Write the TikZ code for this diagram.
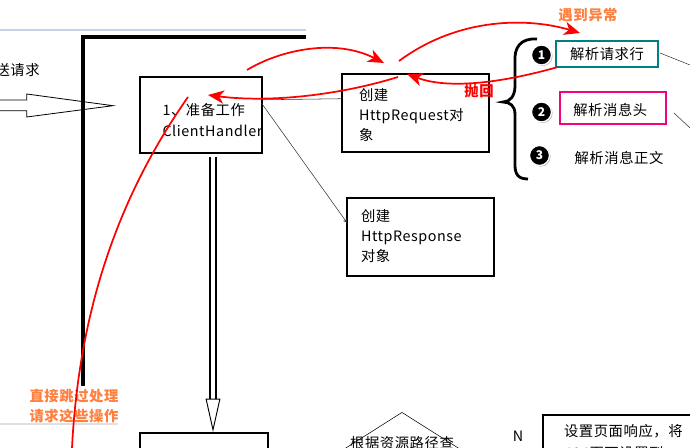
\documentclass[tikz,border=0pt]{standalone}
\usepackage{fontspec}
\setmainfont[LetterSpace=4]{Noto Sans CJK SC}
\usetikzlibrary{arrows.meta,shapes.geometric,shadows}
\definecolor{tealbox}{HTML}{008080}
\definecolor{pinkbox}{HTML}{F0047F}
\definecolor{notecolor}{HTML}{FF7F3F}
\definecolor{rulecolor}{HTML}{C5D2E3}
\tikzset{
  x=0.75pt, y=-0.75pt,
  plain/.style={font=\fontsize{10.75pt}{15pt}\selectfont, inner sep=0pt, align=left},
  stepbox/.style={plain, draw, line width=1.5pt, outer sep=0pt},
  numdot/.style={circle, fill=black, draw=white, line width=1pt, minimum size=15pt, inner sep=0pt,
                 text=white, font=\fontsize{9pt}{9pt}\selectfont\bfseries,
                 drop shadow={shadow xshift=0.8pt, shadow yshift=-0.8pt, opacity=0.6}},
  note/.style={font=\fontsize{10.75pt}{14.5pt}\selectfont\bfseries, text=notecolor, align=center, inner sep=0pt},
  jump/.style={->, red, line width=1.3pt, >={Stealth[length=12pt, width=10pt, inset=3.5pt]}},
  link/.style={->, line width=0.4pt, black!80, >={Stealth[length=3pt, width=3pt]}},
  thinline/.style={line width=0.4pt, black!80},
  hollow/.style={double, double distance=#1},
}

\begin{document}
\begin{tikzpicture}
  \useasboundingbox (0,0) rectangle (690,448);
  \clip (0,0) rectangle (690,448);

  % page rules
  \coordinate (ruleA) at (0,30);
  \coordinate (ruleB) at (306,30);
  \coordinate (ruleC) at (0,424);
  \coordinate (ruleD) at (118,424);
  \draw[line width=1.4pt, rulecolor] (ruleA) -- (ruleB);
  \draw[line width=0.8pt, black!12] (ruleC) -- (ruleD);

  % boxes
  \node[stepbox, text width=57pt, inner xsep=17.25pt, minimum height=57pt] (handler) at (200.5,115) {\rule{0pt}{16pt}1、准备工作\\[0.8pt]ClientHandler};
  \node[stepbox, text width=84.75pt, inner xsep=12.75pt, minimum height=58.5pt] (request) at (415.5,113) {\rule{0pt}{12pt}创建\\HttpRequest对\\象};
  \node[stepbox, text width=89.25pt, inner xsep=10.5pt, minimum height=58.5pt] (response) at (420.5,237) {创建\\HttpResponse\\对象\rule[-3pt]{0pt}{3pt}};
  \node[stepbox, draw=tealbox, minimum width=76.5pt, minimum height=19.5pt, align=center] (line) at (607,54) {解析请求行};
  \node[stepbox, draw=pinkbox, minimum width=79.5pt, minimum height=24pt, align=center] (head) at (613,108) {\hspace*{-4pt}\rule{0pt}{12pt}解析消息头};
  \node[plain] (body) at (619,158) {解析消息正文};
  \node[stepbox, line width=1.1pt, minimum width=96pt, minimum height=60pt] (nextbox) at (204,473) {};
  \node[draw, line width=0.4pt, diamond, aspect=1.6, minimum width=120pt, minimum height=76pt] (check) at (402,463) {};
  \node[plain] (checktext) at (402,443) {根据资源路径查};
  \node[plain] (no) at (518,436) {N};
  \node[stepbox, text width=130pt, inner xsep=15.75pt, minimum height=60pt, anchor=north west, text depth=40pt, text height=9pt, inner ysep=7pt] (page) at (543,415) {设置页面响应，将\\[1.5pt]404页面设置到};

  % numbers
  \node[numdot] (one) at (541.5,55) {1};
  \node[numdot] (two) at (541.5,112) {2};
  \node[numdot] (three) at (539.5,155.5) {3};

  % texts
  \node[plain, anchor=east] (send) at (40,70) {送请求};
  \node[note] (raise) at (588,15) {遇到异常};
  \node[note, text=red] (back) at (479,91) {抛回};
  \node[note] (skip) at (74,406) {直接跳过处理\\请求这些操作};

  % arrows into the handler
  \coordinate (sendTip) at (113,105.7);
  \draw[line width=0.6pt, fill=white] (0,100) -- (26.7,100) -- (26.7,94) -- (sendTip)
    -- (26.7,117) -- (26.7,110.7) -- (0,110.7);
  \coordinate (downA) at (213,157);
  \coordinate (downB) at (213,432);
  \draw[hollow=3pt, line width=1.6pt, -{Triangle[open, length=25pt, width=11pt, line width=0.7pt, fill=white]}] (downA) -- (downB);

  % thick wall
  \coordinate (wallA) at (306,37);
  \coordinate (wallB) at (83,37);
  \coordinate (wallC) at (83,386);
  \draw[line width=3pt] (wallA) -- (wallB) -- (wallC);

  % thin links
  \coordinate (lineout) at (690,65);
  \coordinate (headout) at (690,128);
  \draw[thinline] (handler.14) -- (request.169);
  \draw[link] (handler.11) -- (response.169);
  \draw[thinline] (660,53) -- (lineout);
  \draw[thinline] (674,113) -- (headout);

  % brace
  \coordinate (braceA) at (537,39);
  \coordinate (braceB) at (528,179);
  \coordinate (braceTip) at (503,102);
  \draw[line width=2.1pt] (braceA) .. controls (520,38) and (514,48) .. (515,62)
    -- (515,86) .. controls (515,96) and (510,102) .. (braceTip)
    .. controls (510,102) and (515,106) .. (515,114)
    -- (515,165) .. controls (515,174) and (518,179) .. (braceB);

  % red jumps
  \coordinate (jumpA) at (247,70);
  \coordinate (jumpAend) at (384,63);
  \coordinate (jumpB) at (399,61);
  \coordinate (jumpBend) at (580,33);
  \coordinate (jumpC) at (558,67);
  \coordinate (jumpCend) at (407,74);
  \coordinate (jumpD) at (398,77);
  \coordinate (jumpDend) at (208,95);
  \coordinate (jumpE) at (188,97);
  \coordinate (jumpEend) at (72,448);
  \draw[jump] (jumpA) .. controls (280,50) and (335,38) .. (jumpAend);
  \draw[jump] (jumpB) .. controls (460,16) and (530,18) .. (jumpBend);
  \draw[jump] (jumpC) .. controls (505,82) and (450,90) .. (jumpCend);
  \draw[jump] (jumpD) .. controls (340,95) and (270,103) .. (jumpDend);
  \draw[red, line width=1.3pt] (jumpE) .. controls (130,180) and (80,290) .. (jumpEend);
\end{tikzpicture}
\end{document}
